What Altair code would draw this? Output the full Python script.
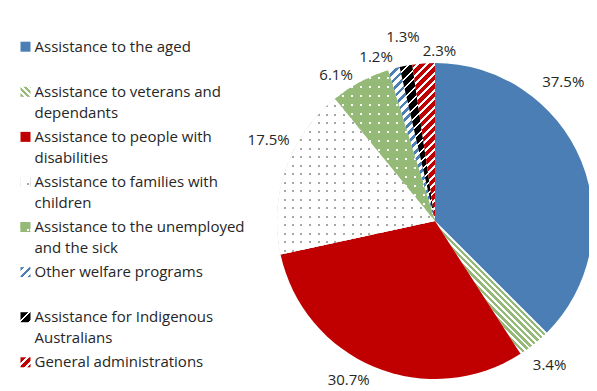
import math
import numpy as np
import pandas as pd
import altair as alt

# ---------------- data ----------------
categories = [
    "Assistance to the aged",
    "Assistance to veterans and dependants",
    "Assistance to people with disabilities",
    "Assistance to families with children",
    "Assistance to the unemployed and the sick",
    "Other welfare programs",
    "Assistance for Indigenous Australians",
    "General administrations",
]
legend_text = [
    "Assistance to the aged",
    "Assistance to veterans and\ndependants",
    "Assistance to people with\ndisabilities",
    "Assistance to families with\nchildren",
    "Assistance to the unemployed\nand the sick",
    "Other welfare programs",
    "Assistance for Indigenous\nAustralians",
    "General administrations",
]
values = [37.5, 3.4, 30.7, 17.5, 6.1, 1.2, 1.3, 2.3]

# ---------------- layout / style ----------------
W, H = 581, 383
CX, CY, R = 427, 213, 158
# label placement (fraction along slice, distance from centre) - layout only
LABEL_F = [0.3165, 0.53, 0.554, 0.606, 0.23, -0.58, 0.66, 1.18]
LABEL_R = [189, 184, 181, 185, 176, 174, 187, 170]
LEG_X_SYM, LEG_X_TXT = 17.5, 26.5
LEG_Y_RANGE = [38.7, 354.3]
FONT = "Open Sans"
TXT = "#262626"

BLUE = "#4A7EB4"
RED = "#C00000"
GREEN = "#95BA77"
GREY = "#A6A6A6"
BLACK = "#000000"
WHITE = "#FFFFFF"
CLEAR = "rgba(255,255,255,0)"

total = float(sum(values))
ends = np.cumsum(values)
starts = ends - np.array(values)


def stripe_stops(c1, c2, frac, n):
    out = []
    k = 0
    while k < n:
        t0 = k / n
        t1 = min((k + frac) / n, 1.0)
        t2 = min((k + 1) / n, 1.0)
        out += [(t0, c1), (t1, c1), (t1, c2), (t2, c2)]
        k += 1
    return [{"offset": round(o, 5), "color": c} for o, c in out]


def diag(c1, c2, frac, period, w, h, slash=True):
    n = (w + h) / (period * math.sqrt(2))
    s = (w + h) / (w * w + h * h)
    g = {"gradient": "linear", "stops": stripe_stops(c1, c2, frac, n)}
    if slash:
        g.update(x1=0, y1=0, x2=w * s, y2=h * s)
    else:
        g.update(x1=0, y1=1, x2=w * s, y2=1 - h * s)
    return g


def bands(c, dot, period, length, horizontal):
    n = length / period
    g = {"gradient": "linear", "stops": stripe_stops(c, CLEAR, (period - dot) / period, n)}
    if horizontal:
        g.update(x1=0, y1=0, x2=0, y2=1)
    else:
        g.update(x1=0, y1=0, x2=1, y2=0)
    return g


def patterns(i, w, h):
    """(base fill, horizontal cover, vertical cover) for slice/symbol i."""
    if i == 0:
        return BLUE, None, None
    if i == 1:
        return diag(GREEN, WHITE, 0.55, 4.5, w, h, slash=False), None, None
    if i == 2:
        return RED, None, None
    if i == 3:
        return GREY, bands(WHITE, 2, 8.5, h, True), bands(WHITE, 2, 8.5, w, False)
    if i == 4:
        return WHITE, bands(GREEN, 2, 9, h, True), bands(GREEN, 2, 9, w, False)
    if i == 5:
        return diag(BLUE, WHITE, 0.45, 6, w, h), None, None
    if i == 6:
        return diag(BLACK, WHITE, 0.8, 7, w, h), None, None
    return diag(RED, WHITE, 0.65, 6, w, h), None, None


def arc_bbox(i):
    a = np.linspace(starts[i] / total * 2 * math.pi, ends[i] / total * 2 * math.pi, 721)
    xs = np.append(R * np.sin(a), 0.0)
    ys = np.append(-R * np.cos(a), 0.0)
    return float(xs.max() - xs.min()), float(ys.max() - ys.min())


arc_pats = [patterns(i, *arc_bbox(i)) for i in range(len(values))]
sym_pats = [patterns(i, 10.0, 10.0) for i in range(len(values))]


def cond_fill(specs):
    conds = [{"test": f"datum.idx === {i}", "value": v} for i, v in enumerate(specs) if v is not None]
    return {"condition": conds, "value": CLEAR}


df = pd.DataFrame({
    "idx": list(range(len(values))),
    "cat": categories,
    "leg": legend_text,
    "value": values,
    "lf": LABEL_F,
    "lr": LABEL_R,
})

base = alt.Chart(df).transform_window(
    cum="sum(value)", sort=[alt.SortField("idx")], frame=[None, 0]
).transform_calculate(
    start="datum.cum - datum.value",
    end="datum.cum",
    lab="datum.cum - datum.value + datum.value * datum.lf",
    label="format(datum.value, '.1f') + '%'",
)

theta_scale = alt.Scale(domain=[0, total])
arc_enc = dict(
    theta=alt.Theta("start:Q", scale=theta_scale),
    theta2="end:Q",
    x=alt.value(CX),
    y=alt.value(CY),
)

arc_layers = []
for k in range(3):
    specs = [p[k] for p in arc_pats]
    if all(s is None for s in specs):
        continue
    arc_layers.append(base.mark_arc(radius=R).encode(fill=cond_fill(specs), **arc_enc))

labels = base.mark_text(fontSize=15, font=FONT, color=TXT, baseline="middle", align="center").encode(
    theta=alt.Theta("lab:Q", scale=theta_scale),
    radius=alt.Radius("lr:Q", scale=None),
    x=alt.value(CX),
    y=alt.value(CY),
    text="label:N",
)

ley = alt.Y("cat:N", sort=categories, scale=alt.Scale(type="point", range=LEG_Y_RANGE, padding=0), axis=None)
leg_layers = []
for k in range(3):
    specs = [p[k] for p in sym_pats]
    if all(s is None for s in specs):
        continue
    leg_layers.append(
        alt.Chart(df).mark_square(size=100, opacity=1).encode(
            y=ley, x=alt.value(LEG_X_SYM), fill=cond_fill(specs)
        )
    )

leg_text = alt.Chart(df).mark_text(
    align="left", baseline="top", dy=-7, lineBreak="\n", lineHeight=21,
    fontSize=15, font=FONT, color=TXT,
).encode(y=ley, x=alt.value(LEG_X_TXT), text="leg:N")

chart = alt.layer(*arc_layers, labels, *leg_layers, leg_text).properties(
    width=W, height=H, padding=0, autosize=alt.AutoSizeParams(type="none")
).configure_view(strokeWidth=0)

chart.save("out.html", embed_options={"renderer": "svg", "actions": False})
